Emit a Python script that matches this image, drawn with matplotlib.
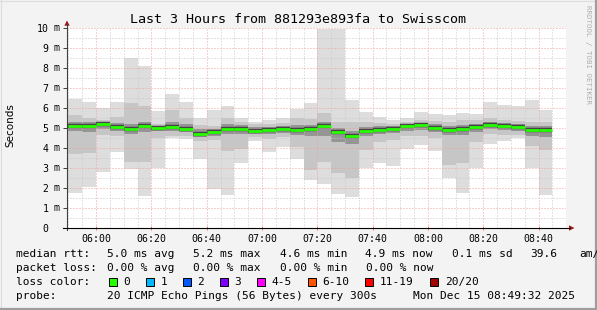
import matplotlib
matplotlib.use("Agg")
import matplotlib.pyplot as plt
import numpy as np
from matplotlib.patches import Rectangle, Polygon
from matplotlib.lines import Line2D

# ---------------- data ----------------
bin_times = ["05:50", "05:55", "06:00", "06:05", "06:10", "06:15", "06:20", "06:25",
             "06:30", "06:35", "06:40", "06:45", "06:50", "06:55", "07:00", "07:05",
             "07:10", "07:15", "07:20", "07:25", "07:30", "07:35", "07:40", "07:45",
             "07:50", "07:55", "08:00", "08:05", "08:10", "08:15", "08:20", "08:25",
             "08:30", "08:35", "08:40"]
rtt_max = [6.45, 6.28, 5.98, 6.28, 8.48, 8.10, 5.85, 6.70, 6.28, 5.48, 5.90, 6.10, 5.48, 5.32,
           5.40, 5.48, 5.95, 6.23, 9.97, 9.97, 6.40, 5.78, 5.53, 5.40, 5.52, 5.78, 5.70, 5.65,
           5.77, 5.70, 6.30, 6.15, 6.10, 6.40, 5.90]
rtt_hi = [5.65, 5.48, 5.40, 5.57, 6.23, 6.10, 5.20, 5.90, 5.50, 5.15, 5.10, 5.50, 5.30, 5.20,
          5.20, 5.25, 5.50, 5.45, 5.73, 5.30, 5.30, 5.30, 5.25, 5.20, 5.30, 5.40, 5.35, 5.30,
          5.40, 5.40, 5.50, 5.40, 5.35, 5.30, 5.30]
rtt_core_hi = [5.30, 5.30, 5.28, 5.25, 5.20, 5.30, 5.12, 5.30, 5.20, 4.95, 4.95, 5.20, 5.15, 5.05,
               5.05, 5.10, 5.15, 5.15, 5.30, 5.00, 4.85, 5.05, 5.10, 5.10, 5.20, 5.25, 5.20, 5.10,
               5.15, 5.20, 5.30, 5.25, 5.20, 5.10, 5.10]
rtt_median = [5.12, 5.12, 5.18, 5.05, 4.97, 5.12, 5.00, 5.07, 4.97, 4.72, 4.82, 4.95, 4.95, 4.85,
              4.90, 4.93, 4.92, 4.97, 5.12, 4.80, 4.62, 4.85, 4.92, 4.95, 5.08, 5.13, 5.02, 4.92,
              4.95, 5.05, 5.15, 5.10, 5.05, 4.92, 4.92]
rtt_core_lo = [4.85, 4.80, 4.95, 4.85, 4.70, 4.80, 4.85, 4.85, 4.80, 4.55, 4.60, 4.70, 4.70, 4.70,
               4.70, 4.75, 4.65, 4.60, 4.60, 4.30, 4.20, 4.60, 4.70, 4.75, 4.85, 4.90, 4.80, 4.65,
               4.65, 4.80, 4.95, 4.90, 4.85, 4.60, 4.55]
rtt_lo = [3.68, 3.77, 4.65, 4.60, 3.32, 3.32, 4.50, 4.60, 4.60, 4.35, 4.40, 3.85, 3.95, 4.55,
          4.45, 4.55, 4.05, 2.90, 3.32, 2.73, 2.48, 3.90, 4.30, 4.40, 4.60, 4.60, 4.50, 3.15,
          3.27, 4.30, 4.70, 4.65, 4.65, 4.10, 3.90]
rtt_min = [1.77, 2.05, 2.82, 3.82, 2.93, 1.60, 2.98, 4.48, 4.45, 3.43, 1.93, 1.67, 3.27, 4.35,
           3.82, 4.07, 3.43, 2.38, 2.18, 1.68, 1.57, 2.98, 3.27, 3.10, 3.95, 4.15, 3.87, 2.50,
           1.77, 2.98, 4.20, 4.37, 4.48, 2.98, 1.65]

x_tick_labels = ["06:00", "06:20", "06:40", "07:00", "07:20", "07:40", "08:00", "08:20", "08:40"]
y_tick_values = [0, 1, 2, 3, 4, 5, 6, 7, 8, 9, 10]

loss_labels = ["0", "1", "2", "3", "4-5", "6-10", "11-19", "20/20"]
loss_colors = ["#26ff00", "#00b8ff", "#0059ff", "#7e00ff", "#ff00ff", "#ff5500", "#ff0000", "#a10000"]

title = "Last 3 Hours from 881293e893fa to Swisscom"
row_median = [(16, "median rtt:"), (107, "5.0 ms avg"), (193, "5.2 ms max"), (280, "4.6 ms min"),
              (365, "4.9 ms now"), (451.7, "0.1 ms sd"), (530, "39.6"), (579, "am/s")]
row_loss = [(16, "packet loss:"), (107, "0.00 % avg"), (193, "0.00 % max"), (280, "0.00 % min"),
            (365.7, "0.00 % now")]
row_probe = [(16, "probe:"), (107, "20 ICMP Echo Pings (56 Bytes) every 300s"),
             (412.7, "Mon Dec 15 08:49:32 2025")]


def to_min(s):
    h, m = s.split(":")
    return (int(h) - 6) * 60 + int(m)


# ---------------- figure ----------------
W, H, DPI = 597, 310, 100
fig = plt.figure(figsize=(W / DPI, H / DPI), dpi=DPI, facecolor="#f3f3f3")


def fx(x):
    return x / W


def fy(y):
    return 1 - y / H


MONO = "DejaVu Sans Mono"
ax_left, ax_right, ax_top, ax_bot = 67, 566.3, 28, 228
ax = fig.add_axes([fx(ax_left), fy(ax_bot), (ax_right - ax_left) / W, (ax_bot - ax_top) / H])
ax.set_facecolor("white")
ax.set_xlim(-10.5, 170)
ax.set_ylim(0, 10)

starts = np.array([to_min(t) for t in bin_times], dtype=float)
step = 5.0
ends = starts + step
mx, hi, chi = np.array(rtt_max), np.array(rtt_hi), np.array(rtt_core_hi)
med, clo, lo, mn = np.array(rtt_median), np.array(rtt_core_lo), np.array(rtt_lo), np.array(rtt_min)

ax.bar(starts, mx - mn, bottom=mn, width=step, align="edge", color="#dddddd", lw=0, zorder=1)
ax.bar(starts, hi - lo, bottom=lo, width=step, align="edge", color="#c6c6c6", lw=0, zorder=1.1)
ax.bar(starts, chi - clo, bottom=clo, width=step, align="edge", color="#959595", lw=0, zorder=1.2)
ax.hlines(med, starts, ends, color="#454545", lw=3.2, zorder=3)
ax.hlines(med, starts, ends, color=loss_colors[0], lw=2.0, zorder=3.5)

# grid
ax.set_xticks([to_min(t) for t in x_tick_labels])
ax.set_xticklabels(x_tick_labels, fontfamily=MONO, fontsize=7.1)
ax.set_xticks(np.arange(-10, 171, 5), minor=True)
ax.set_yticks(y_tick_values)
ax.set_yticklabels([str(v) for v in y_tick_values], fontfamily=MONO, fontsize=7.1)
ax.set_yticks(np.arange(0, 10.01, 0.5), minor=True)
ax.set_axisbelow(False)
ax.grid(which="major", color="#f0a0a0", ls=(0, (1, 2)), lw=0.72)
ax.grid(which="minor", color="#c8c8c8", ls=(0, (1, 2)), lw=0.72)
ax.tick_params(which="minor", length=0)
ax.tick_params(axis="x", which="major", direction="inout", length=2.5, color="#e08080",
               width=0.72, pad=3.0)
ax.tick_params(axis="y", which="major", direction="out", length=2.9, color="#404040",
               width=0.72, pad=10.6)
for sp in ax.spines.values():
    sp.set_visible(False)

# " m" suffix on y labels
for v in y_tick_values:
    if v > 0:
        ax.text((54 - ax_left) / (ax_right - ax_left), v, "m", transform=ax.get_yaxis_transform(),
                ha="left", va="center", fontfamily=MONO, fontsize=7.1)

# axes lines and arrows (figure pixel coords)
fig.add_artist(Line2D([fx(67), fx(67)], [fy(230), fy(24)], color="#404040", lw=0.8))
fig.add_artist(Line2D([fx(63), fx(570)], [fy(228), fy(228)], color="black", lw=0.8))
fig.add_artist(Polygon([[fx(64.3), fy(25.7)], [fx(69.7), fy(25.7)], [fx(67), fy(20.5)]],
                       closed=True, color="#a01818", lw=0))
fig.add_artist(Polygon([[fx(569), fy(225.3)], [fx(569), fy(230.7)], [fx(574.5), fy(228)]],
                       closed=True, color="#a01818", lw=0))

# title and labels
fig.text(fx(298), fy(19.5), title, ha="center", va="center", fontfamily=MONO, fontsize=9.6)
fig.text(fx(10.5), fy(125), "Seconds", rotation=90, ha="center", va="center",
         fontfamily="DejaVu Sans", fontsize=7.5)
fig.text(fx(588), fy(5), "RRDTOOL / TOBI OETIKER", rotation=270, ha="center", va="top",
         fontfamily=MONO, fontsize=5.4, color="#b0b0b0")

# legend rows
LEG = 8.0
for x, s in row_median:
    fig.text(fx(x), fy(257.3), s, ha="left", va="baseline", fontfamily=MONO, fontsize=LEG)
for x, s in row_loss:
    fig.text(fx(x), fy(271.2), s, ha="left", va="baseline", fontfamily=MONO, fontsize=LEG)
fig.text(fx(16), fy(285.1), "loss color:", ha="left", va="baseline", fontfamily=MONO, fontsize=LEG)
bx = 109.0
for lab, col in zip(loss_labels, loss_colors):
    fig.add_artist(Rectangle((fx(bx), fy(286)), 8 / W, 8 / H, facecolor=col,
                             edgecolor="black", lw=0.7))
    fig.text(fx(bx + 14.5), fy(285.1), lab, ha="left", va="baseline", fontfamily=MONO, fontsize=LEG)
    bx = bx + 14.5 + 7.0 * len(lab) + 15.4
for x, s in row_probe:
    fig.text(fx(x), fy(299), s, ha="left", va="baseline", fontfamily=MONO, fontsize=LEG)

# frame shading
fig.add_artist(Line2D([0, 1], [fy(0.5), fy(0.5)], color="#dcdcdc", lw=0.8))
fig.add_artist(Line2D([fx(0.5), fx(0.5)], [0, 1], color="#dcdcdc", lw=0.8))
fig.add_artist(Line2D([0, 1], [fy(308.8), fy(308.8)], color="#9e9e9e", lw=1.6))
fig.add_artist(Line2D([fx(595.8), fx(595.8)], [0, 1], color="#9e9e9e", lw=1.6))

fig.savefig("out.png", dpi=DPI, facecolor=fig.get_facecolor())
